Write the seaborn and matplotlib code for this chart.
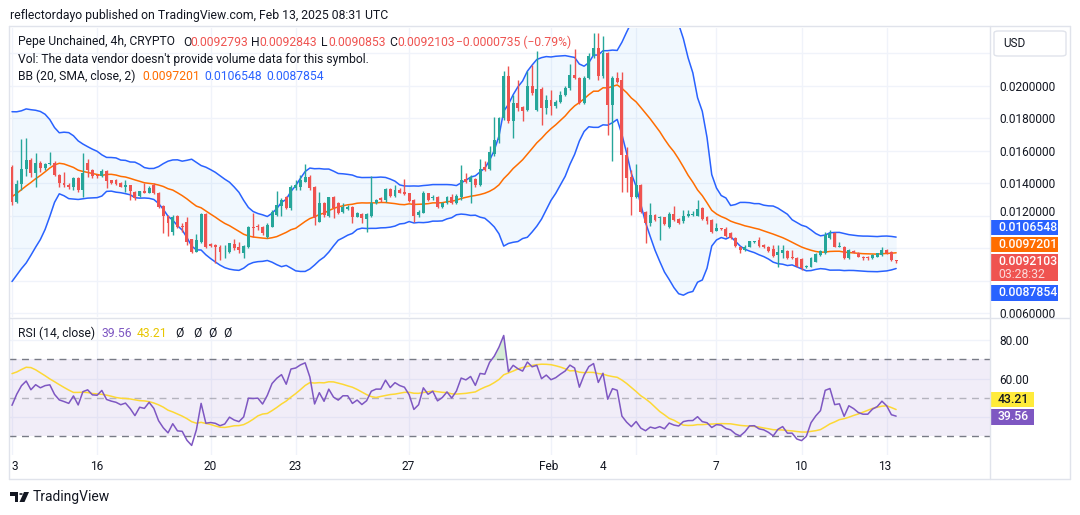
import numpy as np
import pandas as pd
import matplotlib
matplotlib.use("Agg")
import matplotlib.pyplot as plt
from matplotlib.patches import Rectangle, FancyBboxPatch, Polygon, Circle
from matplotlib.lines import Line2D
import seaborn as sns

W, H = 1080, 515
UNIT = 1e-4  # price lists are in units of 0.0001 USD

# 4h candles, Jan 13 00:00 -> Feb 13 08:00 (one bar missing between Feb 4 and Feb 7)
warmup_closes = [118, 115, 117, 112, 110, 113, 109, 106, 108, 104, 102, 101,
                 100, 103, 108, 104, 106, 110, 107, 105, 107.8, 120, 147.5,
                 158, 165, 170, 162, 160, 158, 156, 160]

opens = [149.8, 128.7, 139.4, 148.8, 154.4, 146.6, 152.3, 149.6, 151.9, 152.7,
         145.1, 140.4, 139.0, 137.5, 143.1, 135.9, 152.7, 148.2, 144.8, 144.2,
         147.8, 142.0, 142.0, 140.4, 138.0, 138.9, 134.9, 132.0, 135.5, 134.3,
         139.0, 134.3, 126.0, 120.0, 110.3, 119.9, 113.7, 116.4, 105.6, 98.0,
         104.1, 121.1, 102.7, 102.0, 101.0, 98.8, 98.0, 102.7, 101.0, 96.9,
         101.0, 113.3, 113.7, 113.3, 107.2, 113.3, 120.5, 126.1, 131.4, 124.6,
         136.9, 137.9, 141.0, 143.7, 137.9, 116.4, 127.7, 119.9, 131.4, 127.7,
         122.6, 124.0, 125.6, 119.5, 121.1, 117.9, 119.9, 128.1, 130.8, 129.7,
         136.5, 132.2, 135.9, 134.9, 133.8, 129.7, 120.5, 121.9, 133.8, 130.8,
         131.8, 125.6, 127.7, 131.4, 127.7, 131.8, 142.5, 141.0, 142.9, 139.0,
         149.8, 148.6, 158.1, 166.9, 180.2, 205.8, 178.2, 189.5, 186.8, 185.3,
         199.7, 185.3, 198.1, 186.4, 191.5, 187.4, 190.0, 194.6, 198.7, 206.9,
         204.8, 189.5, 204.8, 218.1, 223.3, 205.8, 220.2, 188.0, 204.8, 203.8,
         157.4, 144.1, 131.8, 139.0, 122.6, 115.8, 120.5, 118.5, 119.2, 113.0,
         121.2, 117.9, 116.5, 120.0, 120.4, 120.0, 124.6, 119.2, 117.5, 110.9,
         112.3, 111.7, 109.3, 106.2, 101.1, 99.0, 101.1, 104.0, 105.2, 102.0,
         101.0, 99.4, 95.9, 97.3, 98.6, 94.5, 93.9, 93.4, 88.3, 88.7,
         91.8, 95.9, 96.9, 106.2, 109.6, 100.6, 101.0, 93.9, 98.6, 97.3,
         94.9, 94.9, 93.9, 94.9, 95.9, 99.0, 98.0, 92.793]

highs = [151.3, 142.0, 167.0, 167.7, 155.4, 158.4, 154.0, 152.5, 159.5, 153.5,
         146.0, 147.2, 140.0, 143.7, 144.1, 158.9, 154.8, 148.6, 145.5, 148.5,
         148.2, 142.2, 142.5, 140.8, 142.0, 139.2, 135.2, 135.5, 140.0, 138.5,
         140.0, 134.5, 126.5, 120.5, 120.5, 120.5, 115.4, 119.5, 106.0, 108.8,
         121.5, 121.5, 103.0, 102.5, 102.0, 102.0, 103.5, 105.6, 104.1, 102.0,
         113.7, 121.6, 115.0, 114.0, 115.4, 123.6, 135.3, 130.8, 132.0, 139.0,
         142.0, 145.1, 151.9, 145.0, 138.5, 134.9, 128.5, 131.8, 132.0, 128.5,
         127.7, 126.5, 126.0, 122.5, 121.5, 121.5, 144.5, 130.5, 131.5, 136.9,
         137.0, 139.0, 137.0, 142.5, 134.3, 130.5, 123.5, 135.5, 134.0, 132.5,
         132.2, 128.5, 132.2, 133.4, 133.4, 151.3, 146.1, 145.1, 143.5, 154.8,
         154.0, 163.0, 180.6, 181.0, 209.3, 211.9, 194.6, 203.8, 187.5, 208.9,
         212.6, 221.6, 199.0, 194.6, 197.6, 191.0, 196.6, 200.0, 213.4, 222.9,
         205.5, 206.0, 220.2, 232.5, 232.5, 230.4, 221.0, 206.0, 208.7, 208.7,
         162.1, 148.2, 151.9, 139.5, 122.8, 127.7, 121.3, 120.0, 119.5, 122.2,
         126.1, 118.5, 123.6, 123.6, 123.0, 129.8, 125.5, 119.6, 118.0, 115.4,
         112.8, 113.4, 110.3, 106.8, 101.5, 101.8, 104.6, 104.7, 106.8, 102.5,
         101.5, 102.0, 102.0, 102.0, 99.0, 99.0, 94.5, 94.0, 89.8, 94.5,
         97.2, 99.2, 110.2, 111.3, 110.3, 104.1, 101.4, 99.5, 99.0, 97.6,
         95.2, 95.3, 96.3, 97.3, 101.0, 99.4, 98.4, 92.843]

lows = [126.7, 128.0, 135.9, 144.5, 144.1, 138.0, 147.2, 148.2, 151.0, 144.5,
        137.5, 138.0, 136.5, 135.9, 134.9, 131.8, 144.1, 143.5, 143.2, 143.8,
        137.3, 139.5, 139.0, 137.5, 134.9, 129.7, 130.0, 131.5, 134.0, 134.0,
        133.5, 124.8, 109.7, 107.8, 108.2, 112.5, 110.3, 102.0, 97.4, 97.5,
        103.0, 100.0, 101.0, 90.8, 92.8, 93.9, 97.4, 99.0, 96.9, 93.9,
        100.0, 107.2, 111.5, 108.0, 106.2, 113.3, 119.9, 119.9, 124.0, 123.6,
        135.9, 135.9, 141.0, 136.0, 114.4, 116.4, 119.5, 119.5, 118.5, 121.0,
        121.5, 123.5, 115.8, 119.0, 115.4, 110.3, 119.5, 127.5, 128.5, 128.7,
        131.5, 131.8, 133.8, 133.0, 128.5, 116.4, 119.5, 121.5, 129.0, 130.0,
        124.8, 125.0, 127.2, 127.0, 127.0, 129.7, 140.0, 127.7, 138.0, 138.5,
        147.5, 148.0, 157.0, 164.8, 179.0, 177.0, 167.9, 184.3, 178.2, 184.5,
        194.6, 184.5, 176.1, 182.7, 182.3, 186.5, 189.5, 194.0, 197.6, 204.0,
        188.5, 188.5, 204.0, 217.0, 203.8, 205.0, 170.0, 153.5, 201.5, 134.9,
        134.9, 120.5, 130.8, 121.5, 103.5, 113.8, 116.5, 105.2, 114.5, 112.5,
        116.8, 115.0, 115.8, 119.5, 120.0, 119.8, 117.2, 115.2, 109.3, 110.5,
        111.0, 107.0, 105.5, 100.8, 97.4, 98.5, 100.6, 103.5, 101.0, 100.0,
        97.7, 94.8, 88.7, 93.9, 93.2, 93.5, 88.5, 86.7, 87.8, 88.3,
        91.3, 95.5, 96.5, 105.8, 100.6, 100.5, 93.4, 93.5, 97.0, 94.5,
        93.0, 92.8, 93.5, 94.5, 95.5, 96.6, 92.4, 90.853]

closes = [128.7, 139.4, 148.8, 154.4, 146.6, 152.3, 149.6, 151.9, 152.7, 145.1,
          140.4, 139.0, 137.5, 143.1, 135.9, 146.6, 148.2, 144.5, 144.2, 147.8,
          141.6, 140.4, 139.6, 138.0, 138.9, 135.5, 130.8, 135.0, 134.3, 137.3,
          133.8, 125.6, 119.9, 115.4, 119.5, 113.3, 112.9, 104.1, 98.0, 105.2,
          121.1, 101.0, 101.5, 100.6, 98.0, 99.0, 103.0, 100.4, 99.0, 101.5,
          112.9, 112.7, 112.9, 109.2, 114.4, 122.6, 126.7, 129.7, 124.6, 137.9,
          138.9, 142.0, 144.1, 136.9, 118.5, 127.7, 120.5, 131.4, 124.6, 121.9,
          125.6, 125.6, 119.5, 122.0, 118.5, 121.1, 128.1, 129.7, 129.7, 136.5,
          132.2, 135.9, 134.3, 133.4, 129.3, 119.9, 122.6, 133.8, 129.7, 131.8,
          125.6, 127.7, 131.4, 127.7, 132.2, 142.0, 141.0, 143.7, 139.0, 148.6,
          148.2, 159.5, 166.9, 180.2, 205.8, 178.2, 189.5, 186.4, 184.3, 199.7,
          195.6, 198.1, 186.4, 191.5, 187.4, 190.0, 194.6, 198.7, 206.9, 204.8,
          189.5, 204.8, 218.1, 223.3, 205.8, 220.2, 188.0, 204.8, 202.6, 157.4,
          143.1, 131.8, 139.0, 122.6, 115.8, 120.5, 117.5, 119.5, 115.0, 121.2,
          117.5, 115.8, 120.0, 120.9, 121.0, 124.2, 117.9, 116.5, 110.3, 112.3,
          111.7, 107.8, 106.2, 101.5, 99.0, 101.1, 104.2, 104.3, 101.5, 100.6,
          98.4, 95.3, 97.9, 99.0, 93.9, 93.9, 89.1, 87.7, 89.1, 93.9,
          96.5, 98.6, 108.2, 109.2, 101.0, 101.4, 93.9, 99.0, 97.3, 94.9,
          93.9, 93.9, 95.9, 96.9, 99.0, 97.0, 92.8, 92.103]

day_labels = ["3", "16", "20", "23", "27", "Feb", "4", "7", "10", "13"]
day_bars = [0, 18, 42, 60, 84, 114, 132, 149, 167, 185]
label_px = [15, 96.5, 210, 295, 408.5, 549, 603, 716, 801, 885]
price_ticks = [0.006, 0.014, 0.016, 0.018, 0.020]
price_grid = [0.006, 0.008, 0.010, 0.012, 0.014, 0.016, 0.018, 0.020, 0.022]

UP, DOWN = "#26a69a", "#ef5350"
GRID = "#f0f3fa"
BORDER = "#e0e3eb"
TXT = "#131722"


def rma(s, n):
    v = s.to_numpy()
    out = np.full(len(v), np.nan)
    out[n] = np.mean(v[1:n + 1])
    for k in range(n + 1, len(v)):
        out[k] = (out[k - 1] * (n - 1) + v[k]) / n
    return out


# indicators (BB 20/2 and RSI 14 with SMA 14), computed from the closes
full = pd.Series(warmup_closes + closes, dtype=float) * UNIT
basis = full.rolling(20).mean()
dev = full.rolling(20).std(ddof=0)
delta = full.diff()
up_avg = rma(delta.clip(lower=0), 14)
dn_avg = rma(-delta.clip(upper=0), 14)
rsi = pd.Series(100 - 100 / (1 + up_avg / dn_avg))
rsi_ma = rsi.rolling(14).mean()

nw = len(warmup_closes)
n = len(closes)
bars = np.arange(n)
ind = pd.DataFrame({
    "bar": bars,
    "basis": basis.to_numpy()[nw:],
    "upper": (basis + 2 * dev).to_numpy()[nw:],
    "lower": (basis - 2 * dev).to_numpy()[nw:],
    "rsi": rsi.to_numpy()[nw:],
    "rsi_ma": rsi_ma.to_numpy()[nw:],
})
o = np.array(opens) * UNIT
h = np.array(highs) * UNIT
l = np.array(lows) * UNIT
c = np.array(closes) * UNIT

sns.set_style("white")
plt.rcParams["font.family"] = ["Roboto", "DejaVu Sans"]

fig = plt.figure(figsize=(W / 100, H / 100), dpi=100)


def rect(x0, y0, x1, y1):
    return [x0 / W, 1 - y1 / H, (x1 - x0) / W, (y1 - y0) / H]


def fx(x):
    return x / W


def fy(y):
    return 1 - y / H


SP = 4.728  # px per bar
X0 = 12.0   # px of first bar
ax = fig.add_axes(rect(9, 28, 990, 317))
rax = fig.add_axes(rect(9, 318, 990, 455))
for a in (ax, rax):
    a.set_xlim((9 - X0) / SP, (990 - X0) / SP)
    for s in a.spines.values():
        s.set_visible(False)
    a.set_facecolor("white")


def price_at(y):
    return (180 - (y - 118.3) / 1.625) * UNIT


def rsi_at(y):
    return 70 - (y - 359.3) / 1.925


ax.set_ylim(price_at(317), price_at(28))
rax.set_ylim(rsi_at(455), rsi_at(318))

# grid
for p in price_grid:
    ax.axhline(p, color=GRID, lw=1, zorder=0)
for r in (40, 60, 80):
    rax.axhline(r, color=GRID, lw=1, zorder=0)
for b in day_bars:
    ax.axvline(b, color=GRID, lw=1, zorder=0)
    rax.axvline(b, color=GRID, lw=1, zorder=0)

# bollinger bands
ax.fill_between(ind["bar"], ind["lower"], ind["upper"], color="#2196f3", alpha=0.06, lw=0, zorder=1)
sns.lineplot(data=ind, x="bar", y="upper", color="#2962ff", lw=1.1, ax=ax, zorder=2)
sns.lineplot(data=ind, x="bar", y="lower", color="#2962ff", lw=1.1, ax=ax, zorder=2)
sns.lineplot(data=ind, x="bar", y="basis", color="#ff6d00", lw=1.1, ax=ax, zorder=2)

# candles
col = np.where(c >= o, UP, DOWN)
ax.vlines(bars, l, h, colors=col, lw=1, zorder=3)
body = np.maximum(np.abs(c - o), 0.6 * UNIT / 1.625)
ax.bar(bars, body, bottom=np.minimum(o, c), width=0.62, color=col, lw=0, zorder=4)

# RSI pane
rax.axhspan(30, 70, color="#7e57c2", alpha=0.1, lw=0, zorder=0)
for lvl, al in ((70, 1.0), (50, 0.5), (30, 1.0)):
    rax.axhline(lvl, color="#787b86", lw=1, ls=(0, (5, 4)), alpha=al, zorder=1)
rv = ind["rsi"].to_numpy()
rax.fill_between(bars, rv, 70, where=rv > 70, interpolate=True, color="#4caf50", alpha=0.22, lw=0, zorder=1)
sns.lineplot(data=ind, x="bar", y="rsi_ma", color="#fdd835", lw=1.1, ax=rax, zorder=2)
sns.lineplot(data=ind, x="bar", y="rsi", color="#7e57c2", lw=1.1, ax=rax, zorder=3)

for a in (ax, rax):
    a.set_xlabel("")
    a.set_ylabel("")
    a.set_xticks([])
ax.yaxis.tick_right()
ax.set_yticks(price_ticks)
ax.set_yticklabels([f"{p:.7f}" for p in price_ticks])
ax.tick_params(axis="y", length=0, pad=7, labelsize=8.6, labelcolor=TXT)
rax.yaxis.tick_right()
rax.set_yticks([60, 80])
rax.set_yticklabels(["60.00", "80.00"])
rax.tick_params(axis="y", length=0, pad=7, labelsize=8.6, labelcolor=TXT)
# 0.012 label sits just above the badges, half hidden in the reference
fig.text(fx(999), fy(212.5), "0.0120000", fontsize=8.6, color=TXT, va="center")

# date labels
for lab, xp in zip(day_labels, label_px):
    fig.text(fx(xp), fy(466.5), lab, ha="center", va="center", fontsize=8.6, color=TXT)

# frame lines
frame = [((9, 1070), (26, 26)), ((9, 1070), (317.5, 317.5)), ((9, 1070), (479, 479)),
         ((990, 990), (26, 479)), ((1070, 1070), (26, 479)), ((9, 9), (26, 479))]
for xs, ys in frame:
    fig.add_artist(Line2D([fx(xs[0]), fx(xs[1])], [fy(ys[0]), fy(ys[1])], color=BORDER, lw=1))

# header and legends
fig.text(fx(9.6), fy(15.5), "reflectordayo published on TradingView.com, Feb 13, 2025 08:31 UTC",
         fontsize=8.8, color=TXT, va="center")
leg1 = [(18.4, "Pepe Unchained, 4h, CRYPTO", TXT), (183, "O", TXT), (190.2, "0.0092793", DOWN),
        (251.4, "H", TXT), (259, "0.0092843", DOWN), (321.5, "L", TXT), (328, "0.0090853", DOWN),
        (389.6, "C", TXT), (396.9, "0.0092103", DOWN), (456.5, "\u22120.0000735 (\u22120.79%)", DOWN)]
for xp, s, cc in leg1:
    fig.text(fx(xp), fy(42), s, fontsize=8.7, color=cc, va="center")
fig.text(fx(18.4), fy(59), "Vol: The data vendor doesn't provide volume data for this symbol.",
         fontsize=8.7, color=TXT, va="center")
leg3 = [(18.4, "BB (20, SMA, close, 2)", TXT), (142.7, "0.0097201", "#ff6d00"),
        (204.7, "0.0106548", "#2962ff"), (266.7, "0.0087854", "#2962ff")]
for xp, s, cc in leg3:
    fig.text(fx(xp), fy(76), s, fontsize=8.7, color=cc, va="center")
leg4 = [(18.3, "RSI (14, close)", TXT), (101.7, "39.56", "#7e57c2"), (136.7, "43.21", "#e8c600"),
        (175, "\u00d8", TXT), (193.3, "\u00d8", TXT), (208.3, "\u00d8", TXT), (223.3, "\u00d8", TXT)]
for xp, s, cc in leg4:
    fig.text(fx(xp), fy(333.3), s, fontsize=8.7, color=cc, va="center")

# USD box
fig.add_artist(FancyBboxPatch((fx(994), fy(56)), fx(72), 25 / H, boxstyle="round,pad=0,rounding_size=0.004",
                              transform=fig.transFigure, fc="white", ec=BORDER, lw=1))
fig.text(fx(1003), fy(43.5), "USD", fontsize=8.5, color=TXT, va="center")

# price badges
badges = [(219.7, 235.3, 1058, "#2962ff", "0.0106548", "white"),
          (237.0, 252.3, 1058, "#ff6d00", "0.0097201", "white"),
          (284.7, 300.7, 1058, "#2962ff", "0.0087854", "white"),
          (392.3, 407.0, 1034, "#ffeb3b", "43.21", TXT),
          (409.0, 424.7, 1034, "#7e57c2", "39.56", "white")]
for y0, y1, x1, fc, s, tc in badges:
    fig.add_artist(Rectangle((fx(991), fy(y1)), (x1 - 991) / W, (y1 - y0) / H,
                             transform=fig.transFigure, fc=fc, ec="none"))
    fig.text(fx(998), fy((y0 + y1) / 2), s, fontsize=8.8, color=tc, va="center", fontweight="medium")
fig.add_artist(Rectangle((fx(991), fy(281.3)), 67 / W, 27.6 / H, transform=fig.transFigure, fc=DOWN, ec="none"))
fig.text(fx(998), fy(261.5), "0.0092103", fontsize=8.8, color="white", va="center", fontweight="medium")
fig.text(fx(998), fy(274.5), "03:28:32", fontsize=8.8, color="#fbdada", va="center")

# TradingView logo
fig.add_artist(Polygon([(fx(10), fy(492)), (fx(18), fy(492)), (fx(18), fy(502)), (fx(14.5), fy(502)),
                        (fx(14.5), fy(495.5)), (fx(10), fy(495.5))], closed=True,
                       transform=fig.transFigure, fc=TXT, ec="none"))
fig.add_artist(Circle((fx(21), fy(494)), 1.8 / W, transform=fig.transFigure, fc=TXT, ec="none"))
fig.add_artist(Polygon([(fx(24), fy(492)), (fx(29), fy(492)), (fx(24.5), fy(502)), (fx(19.5), fy(502))],
                       closed=True, transform=fig.transFigure, fc=TXT, ec="none"))
fig.text(fx(33), fy(497.5), "TradingView", fontsize=10, color=TXT, va="center")

fig.savefig("out.png", dpi=100, facecolor="white")
